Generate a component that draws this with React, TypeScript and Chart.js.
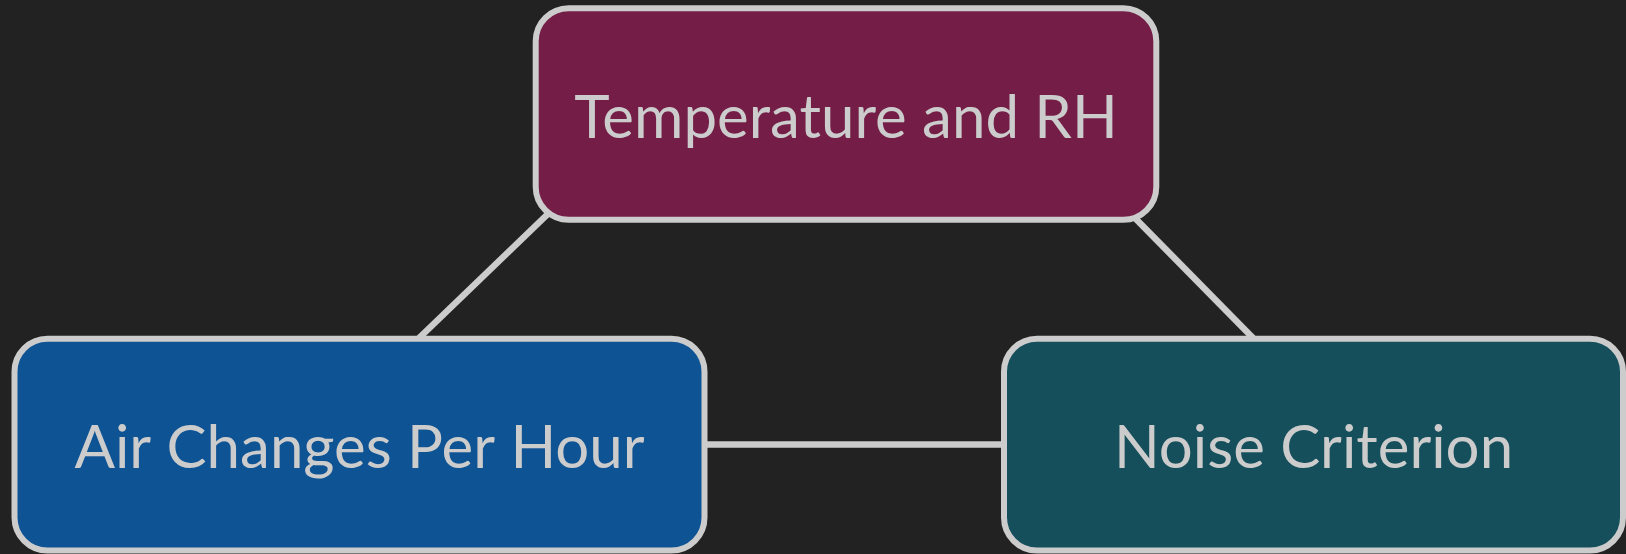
import React, { useEffect, useRef } from "react";
import { Chart, registerables } from "chart.js";

Chart.register(...registerables);

// Diagram nodes (centres in diagram units)
const nodeLabels = ["Temperature and RH", "Air Changes Per Hour", "Noise Criterion"];
const nodeX = [846, 359.5, 1313.5];
const nodeY = [114, 444.6, 444.6];
const nodeWidths = [620.6, 690, 619];
const nodeColors = ["#741d47", "#0e5394", "#154f5c"];

// Connecting edges (start / end points in diagram units)
const edgeStartX = [552, 1130, 700];
const edgeStartY = [210, 213, 444.6];
const edgeEndX = [417, 1255, 1008];
const edgeEndY = [340, 340, 444.6];

const BG = "#222222";
const FG = "#cccccc";

const boxPlugin = {
  id: "nodeBoxes",
  beforeDraw(chart: any) {
    const ctx = chart.ctx;
    ctx.save();
    ctx.fillStyle = BG;
    ctx.fillRect(0, 0, chart.width, chart.height);
    ctx.restore();
  },
  afterDatasetsDraw(chart: any, _args: any, opts: any) {
    const ctx = chart.ctx as CanvasRenderingContext2D;
    const idx = chart.data.datasets.findIndex((d: any) => d.label === "nodes");
    const meta = chart.getDatasetMeta(idx);
    const xs = chart.scales.x;
    const ys = chart.scales.y;
    meta.data.forEach((pt: any, i: number) => {
      const cx = pt.x;
      const cy = pt.y;
      const w = Math.abs(xs.getPixelForValue(nodeWidths[i]) - xs.getPixelForValue(0));
      const h = Math.abs(ys.getPixelForValue(opts.height) - ys.getPixelForValue(0));
      const x0 = cx - w / 2;
      const y0 = cy - h / 2;
      const r = opts.radius;
      ctx.save();
      ctx.beginPath();
      ctx.moveTo(x0 + r, y0);
      ctx.lineTo(x0 + w - r, y0);
      ctx.arcTo(x0 + w, y0, x0 + w, y0 + r, r);
      ctx.lineTo(x0 + w, y0 + h - r);
      ctx.arcTo(x0 + w, y0 + h, x0 + w - r, y0 + h, r);
      ctx.lineTo(x0 + r, y0 + h);
      ctx.arcTo(x0, y0 + h, x0, y0 + h - r, r);
      ctx.lineTo(x0, y0 + r);
      ctx.arcTo(x0, y0, x0 + r, y0, r);
      ctx.closePath();
      ctx.fillStyle = nodeColors[i];
      ctx.fill();
      ctx.lineWidth = opts.borderWidth;
      ctx.strokeStyle = FG;
      ctx.stroke();
      ctx.font = `${opts.fontSize}px Lato, "Open Sans", sans-serif`;
      ctx.fillStyle = FG;
      ctx.textAlign = "center";
      ctx.textBaseline = "alphabetic";
      const cap = ctx.measureText("H").actualBoundingBoxAscent;
      ctx.fillText(nodeLabels[i], cx, cy + cap / 2 + opts.textShift);
      ctx.restore();
    });
  },
};

export default function App() {
  const ref = useRef<HTMLCanvasElement | null>(null);
  useEffect(() => {
    document.body.style.margin = "0";
    document.body.style.background = BG;
    const canvas = ref.current!;
    const edgeSets = edgeStartX.map((_, i) => ({
      type: "line" as const,
      label: `edge${i}`,
      data: [
        { x: edgeStartX[i], y: edgeStartY[i] },
        { x: edgeEndX[i], y: edgeEndY[i] },
      ],
      showLine: true,
      borderColor: FG,
      borderWidth: 6.5,
      pointRadius: 0,
      fill: false,
    }));
    const chart = new Chart(canvas, {
      type: "scatter",
      data: {
        datasets: [
          ...edgeSets,
          {
            label: "nodes",
            data: nodeX.map((x, i) => ({ x, y: nodeY[i] })),
            pointRadius: 0,
            showLine: false,
          } as any,
        ],
      },
      options: {
        animation: false,
        responsive: false,
        devicePixelRatio: 1,
        layout: { padding: 0 },
        events: [],
        scales: {
          x: { type: "linear", min: 0, max: 1626, display: false },
          y: { type: "linear", min: 0, max: 554, reverse: true, display: false },
        },
        plugins: {
          legend: { display: false },
          tooltip: { enabled: false },
          nodeBoxes: { height: 211.7, radius: 33, borderWidth: 6, fontSize: 60, textShift: 2 },
        } as any,
      },
      plugins: [boxPlugin],
    });
    return () => chart.destroy();
  }, []);
  return (
    <div style={{ position: "absolute", left: 0, top: 0, width: 1626, height: 554, background: BG }}>
      <canvas ref={ref} width={1626} height={554} style={{ display: "block" }} />
    </div>
  );
}
